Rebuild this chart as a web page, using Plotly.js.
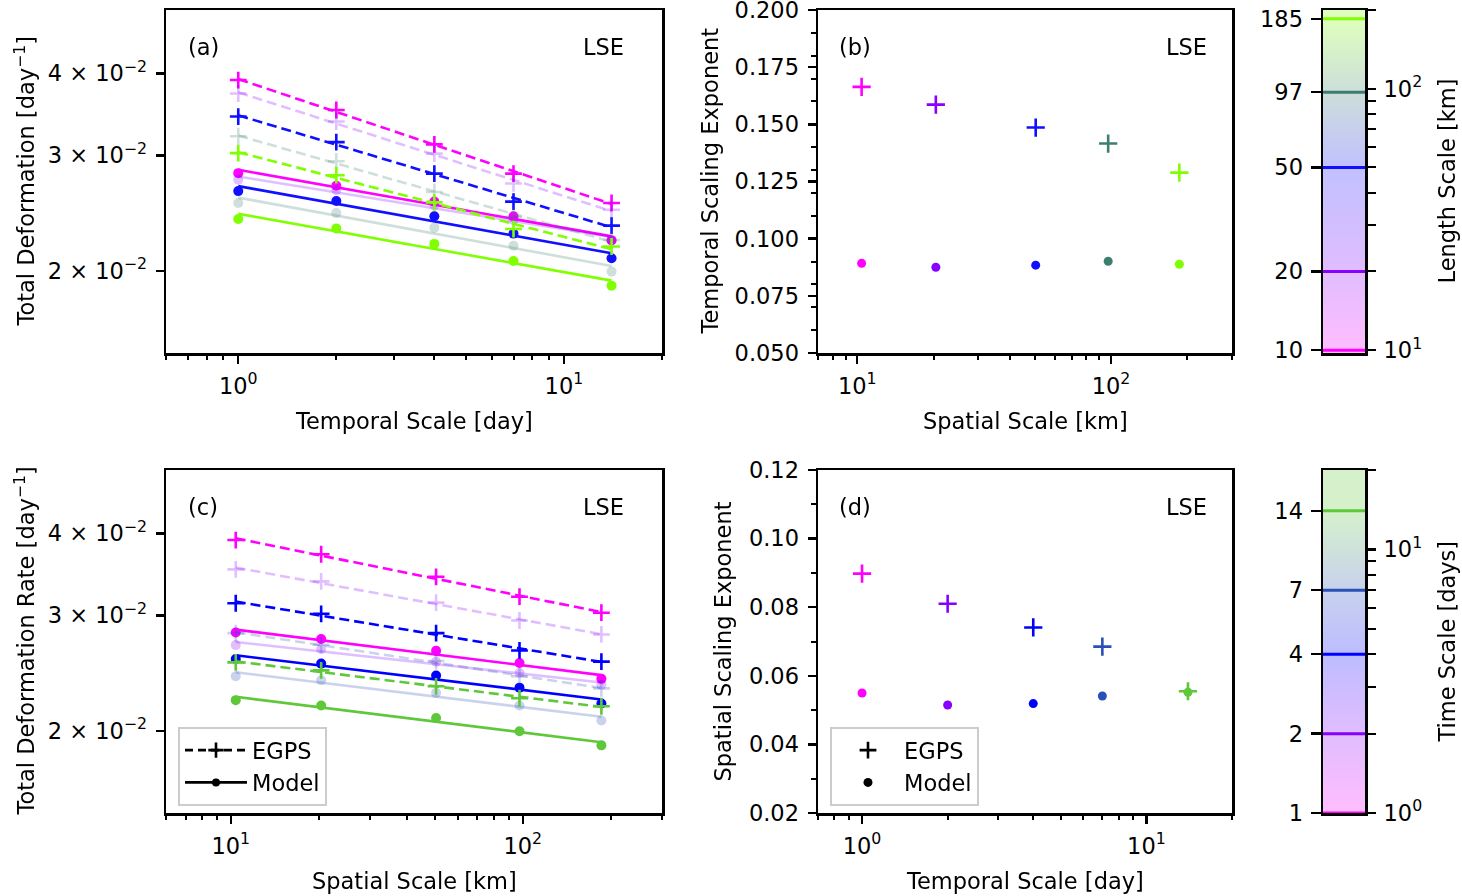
<!DOCTYPE html>
<html><head><meta charset="utf-8">
<script src="https://cdn.plot.ly/plotly-3.0.1.min.js"></script>
<style>html,body{margin:0;padding:0;background:#fff}#chart{width:1462px;height:896px}</style>
</head><body><div id="chart"></div>
<script>
// ---------------- data ----------------
const timeScales = [1, 2, 4, 7, 14];              // days
const spaceScales = [10.4, 20.4, 50.5, 97.5, 186]; // km (plotted positions)
const spaceTickVals = [10, 20, 50, 97, 185];       // length-scale colorbar labels
const timeTickVals = [1, 2, 4, 7, 14];             // time-scale colorbar labels

// panel (a): total deformation vs temporal scale, one series per spatial scale
const a_egps_10  = [0.0391, 0.0352, 0.0312, 0.02815, 0.0254];
const a_egps_20  = [0.0373, 0.0338, 0.0302, 0.0272, 0.0248];
const a_egps_50  = [0.0344, 0.03145, 0.02815, 0.02552, 0.02346];
const a_egps_97  = [0.0321, 0.0294, 0.0264, 0.0242, 0.0223];
const a_egps_185 = [0.03025, 0.0280, 0.02545, 0.02318, 0.0218];
const a_model_10  = [0.0282, 0.02698, 0.02552, 0.02424, 0.02227];
const a_model_20  = [0.02756, 0.02655, 0.02521, 0.0239, 0.02232];
const a_model_50  = [0.02648, 0.02557, 0.02424, 0.02281, 0.02092];
const a_model_97  = [0.0254, 0.02451, 0.02329, 0.02186, 0.01996];
const a_model_185 = [0.02401, 0.02323, 0.0220, 0.02072, 0.0190];

// panel (c): total deformation rate vs spatial scale, one series per temporal scale
const c_egps_1  = [0.0391, 0.0372, 0.03437, 0.03205, 0.0303];
const c_egps_2  = [0.03528, 0.03382, 0.03139, 0.02948, 0.02807];
const c_egps_4  = [0.03132, 0.03018, 0.0282, 0.02654, 0.02552];
const c_egps_7  = [0.0282, 0.02707, 0.02557, 0.02424, 0.02323];
const c_egps_14 = [0.02545, 0.02475, 0.0234, 0.02244, 0.02182];
const c_model_1  = [0.02826, 0.02762, 0.0265, 0.0254, 0.02402];
const c_model_2  = [0.02704, 0.02667, 0.02552, 0.02452, 0.02352];
const c_model_4  = [0.02575, 0.02534, 0.0243, 0.02329, 0.02203];
const c_model_7  = [0.02424, 0.02391, 0.02287, 0.02188, 0.02075];
const c_model_14 = [0.02229, 0.02188, 0.02093, 0.01998, 0.01902];

// panel (b): temporal scaling exponent per spatial scale
const b_egps  = [0.1664, 0.1586, 0.1486, 0.1416, 0.1289];
const b_model = [0.0892, 0.0875, 0.0884, 0.0901, 0.0888];
// panel (d): spatial scaling exponent per temporal scale
const d_egps  = [0.0898, 0.0810, 0.0741, 0.0685, 0.0555];
const d_model = [0.0550, 0.0515, 0.0519, 0.0541, 0.0552];

// tick labels
const bTicks = [0.05, 0.075, 0.1, 0.125, 0.15, 0.175, 0.2];
const dTicks = [0.02, 0.04, 0.06, 0.08, 0.1, 0.12];
const yLogVals = [0.02, 0.03, 0.04];
const yLogText = ['2 × 10<sup>−2</sup>', '3 × 10<sup>−2</sup>', '4 × 10<sup>−2</sup>'];

// ---------------- styles ----------------
const spaceColors = ['#ff00ff', '#8800ff', '#1010ff', '#3d7f6f', '#7fff00'];
const timeColors  = ['#ff00ff', '#8800ff', '#0000ff', '#2a50b8', '#5ec83a'];
const seriesOpacity = [1, 0.25, 1, 0.25, 1];
const FS = 22.5;
const W = 1462, H = 896;
const px = v => v / W, py = v => 1 - v / H;

const aEgps  = [a_egps_10, a_egps_20, a_egps_50, a_egps_97, a_egps_185];
const aModel = [a_model_10, a_model_20, a_model_50, a_model_97, a_model_185];
const cEgps  = [c_egps_1, c_egps_2, c_egps_4, c_egps_7, c_egps_14];
const cModel = [c_model_1, c_model_2, c_model_4, c_model_7, c_model_14];

// least-squares power-law fit (straight line in log-log) drawn between first and last x
function powerFit(xs, ys) {
  const lx = xs.map(Math.log10), ly = ys.map(Math.log10), n = xs.length;
  const mx = lx.reduce((s, v) => s + v, 0) / n, my = ly.reduce((s, v) => s + v, 0) / n;
  let num = 0, den = 0;
  for (let i = 0; i < n; i++) { num += (lx[i] - mx) * (ly[i] - my); den += (lx[i] - mx) ** 2; }
  const b = num / den, a = my - b * mx;
  const ex = [xs[0], xs[n - 1]];
  return { x: ex, y: ex.map(x => Math.pow(10, a + b * Math.log10(x))) };
}

const traces = [];
function addScalingPanel(xs, egpsList, modelList, colors, xa, ya) {
  for (let i = 0; i < egpsList.length; i++) {
    const c = colors[i], op = seriesOpacity[i];
    const fe = powerFit(xs, egpsList[i]);
    traces.push({x: fe.x, y: fe.y, mode: 'lines', line: {color: c, width: 2.6, dash: '10px,5px'},
      opacity: op, xaxis: xa, yaxis: ya, showlegend: false, hoverinfo: 'skip'});
    traces.push({x: xs, y: egpsList[i], mode: 'markers',
      marker: {symbol: 'cross-thin', size: 12, color: c, line: {width: 2.6, color: c}},
      opacity: op, xaxis: xa, yaxis: ya, showlegend: false});
    const fm = powerFit(xs, modelList[i]);
    traces.push({x: fm.x, y: fm.y, mode: 'lines', line: {color: c, width: 2.6},
      opacity: op, xaxis: xa, yaxis: ya, showlegend: false, hoverinfo: 'skip'});
    traces.push({x: xs, y: modelList[i], mode: 'markers',
      marker: {symbol: 'circle', size: 10, color: c},
      opacity: op, xaxis: xa, yaxis: ya, showlegend: false});
  }
}
addScalingPanel(timeScales, aEgps, aModel, spaceColors, 'x', 'y');
addScalingPanel(spaceScales, cEgps, cModel, timeColors, 'x3', 'y3');

// exponent panels
traces.push({x: spaceScales, y: b_egps, mode: 'markers', xaxis: 'x2', yaxis: 'y2', showlegend: false,
  marker: {symbol: 'cross-thin', size: 13, color: spaceColors, line: {width: 2.6, color: spaceColors}}});
traces.push({x: spaceScales, y: b_model, mode: 'markers', xaxis: 'x2', yaxis: 'y2', showlegend: false,
  marker: {symbol: 'circle', size: 9, color: spaceColors}});
traces.push({x: timeScales, y: d_egps, mode: 'markers', xaxis: 'x4', yaxis: 'y4', showlegend: false,
  marker: {symbol: 'cross-thin', size: 13, color: timeColors, line: {width: 2.6, color: timeColors}}});
traces.push({x: timeScales, y: d_model, mode: 'markers', xaxis: 'x4', yaxis: 'y4', showlegend: false,
  marker: {symbol: 'circle', size: 9, color: timeColors}});

// legends
traces.push({x: [null], y: [null], mode: 'lines+markers', name: 'EGPS', xaxis: 'x3', yaxis: 'y3', legend: 'legend',
  line: {color: '#000', width: 2.6, dash: '8px,5px'}, marker: {symbol: 'cross-thin', size: 11, color: '#000', line: {width: 2.6, color: '#000'}}});
traces.push({x: [null], y: [null], mode: 'lines+markers', name: 'Model', xaxis: 'x3', yaxis: 'y3', legend: 'legend',
  line: {color: '#000', width: 2.6}, marker: {symbol: 'circle', size: 8, color: '#000'}});
traces.push({x: [null], y: [null], mode: 'markers', name: 'EGPS', xaxis: 'x4', yaxis: 'y4', legend: 'legend2',
  marker: {symbol: 'cross-thin', size: 12, color: '#000', line: {width: 2.6, color: '#000'}}});
traces.push({x: [null], y: [null], mode: 'markers', name: 'Model', xaxis: 'x4', yaxis: 'y4', legend: 'legend2',
  marker: {symbol: 'circle', size: 9, color: '#000'}});

// colorbars
function hexToRgba(h, a) {
  const r = parseInt(h.slice(1, 3), 16), g = parseInt(h.slice(3, 5), 16), b = parseInt(h.slice(5, 7), 16);
  return `rgba(${r},${g},${b},${a})`;
}
function addColorbar(vals, colors, lo, hi, xa, ya, ya2) {
  const L = v => (Math.log10(v) - Math.log10(lo)) / (Math.log10(hi) - Math.log10(lo));
  const cs = [[0, hexToRgba(colors[0], 0.26)]];
  vals.forEach((v, i) => cs.push([Math.min(Math.max(L(v), 0.0001), 0.9999), hexToRgba(colors[i], 0.26)]));
  cs.push([1, hexToRgba(colors[colors.length - 1], 0.26)]);
  traces.push({x: [0, 1, 1, 0, 0], y: [lo, lo, hi, hi, lo], mode: 'lines', fill: 'toself',
    fillgradient: {type: 'vertical', colorscale: cs}, line: {width: 0, color: 'rgba(0,0,0,0)'},
    xaxis: xa, yaxis: ya, showlegend: false, hoverinfo: 'skip'});
  vals.forEach((v, i) => traces.push({x: [0, 1], y: [v, v], mode: 'lines', line: {color: colors[i], width: 3},
    xaxis: xa, yaxis: ya2, showlegend: false, hoverinfo: 'skip'}));
}
addColorbar(spaceTickVals, spaceColors, 9.75, 200, 'x5', 'y5', 'y6');
addColorbar(timeTickVals, timeColors, 1, 20, 'x6', 'y7', 'y8');

// ---------------- layout ----------------
const sup = e => `10<sup>${e}</sup>`;
const frame = {showline: true, linewidth: 2.5, linecolor: '#000', mirror: true, showgrid: false, zeroline: false,
  ticks: 'outside', ticklen: 8, tickwidth: 2.4, tickcolor: '#000', tickfont: {size: FS, color: '#000'},
  ticklabeloverflow: 'allow'};
function logAx(domain, lo, hi, tickvals, ticktext, minorvals, anchor, extra) {
  return Object.assign({}, frame, {type: 'log', domain, range: [Math.log10(lo), Math.log10(hi)], anchor,
    tickmode: 'array', tickvals, ticktext,
    minor: {tickmode: 'array', tickvals: minorvals, ticks: 'outside', ticklen: 4.5, tickwidth: 2, tickcolor: '#000', showgrid: false}},
    extra || {});
}
function linAx(domain, lo, hi, tickvals, fmt, minorDtick, anchor) {
  return Object.assign({}, frame, {type: 'linear', domain, range: [lo, hi], anchor, tickmode: 'array', tickvals,
    ticktext: tickvals.map(v => v.toFixed(fmt)), ticklabelstandoff: 4,
    minor: {tickmode: 'linear', tick0: lo, dtick: minorDtick, ticks: 'outside', ticklen: 4.5, tickwidth: 2, tickcolor: '#000', showgrid: false}});
}
const colL = [px(166), px(662)], colR = [px(818), px(1232)], colCB = [px(1323), px(1365)];
const rowT = [py(353), py(10)], rowB = [py(813), py(470)];

const legendStyle = {xanchor: 'left', yanchor: 'top', bgcolor: 'rgba(255,255,255,0.85)',
  bordercolor: '#cccccc', borderwidth: 2, font: {size: FS}, itemwidth: 62, tracegroupgap: 0};

const layout = {
  width: W, height: H, margin: {l: 0, r: 0, t: 0, b: 0},
  paper_bgcolor: '#fff', plot_bgcolor: 'rgba(0,0,0,0)',
  font: {family: 'DejaVu Sans', size: FS, color: '#000'},
  hovermode: false,
  xaxis: logAx(colL, 0.6, 20, [1, 10], [sup(0), sup(1)], [0.6, 0.7, 0.8, 0.9, 2, 3, 4, 5, 6, 7, 8, 9, 20], 'y', {ticklabelstandoff: 3}),
  yaxis: logAx(rowT, 0.015, 0.05, yLogVals, yLogText, [], 'x', {ticklabelstandoff: 4}),
  xaxis2: logAx(colR, 7, 300, [10, 100], [sup(1), sup(2)], [7, 8, 9, 20, 30, 40, 50, 60, 70, 80, 90, 200, 300], 'y2', {ticklabelstandoff: 3}),
  yaxis2: linAx(rowT, 0.05, 0.2, bTicks, 3, 0.01, 'x2'),
  xaxis3: logAx(colL, 6, 300, [10, 100], [sup(1), sup(2)], [6, 7, 8, 9, 20, 30, 40, 50, 60, 70, 80, 90, 200, 300], 'y3', {ticklabelstandoff: 3}),
  yaxis3: logAx(rowB, 0.015, 0.05, yLogVals, yLogText, [], 'x3', {ticklabelstandoff: 4}),
  xaxis4: logAx(colR, 0.7, 20, [1, 10], [sup(0), sup(1)], [0.7, 0.8, 0.9, 2, 3, 4, 5, 6, 7, 8, 9, 20], 'y4', {ticklabelstandoff: 3}),
  yaxis4: linAx(rowB, 0.02, 0.12, dTicks, 2, 0.01, 'x4'),
  xaxis5: Object.assign({}, frame, {domain: colCB, range: [0, 1], anchor: 'y5', ticks: '', showticklabels: false}),
  yaxis5: logAx(rowT, 9.75, 200, spaceTickVals, spaceTickVals.map(String), [], 'x5', {side: 'left', ticklen: 10, ticklabelstandoff: 3}),
  yaxis6: logAx(rowT, 9.75, 200, [10, 100], [sup(1), sup(2)], [20, 30, 40, 50, 60, 70, 80, 90, 200], 'x5',
    {side: 'right', overlaying: 'y5', ticklen: 10, showline: false, mirror: false, ticklabelstandoff: 3}),
  xaxis6: Object.assign({}, frame, {domain: colCB, range: [0, 1], anchor: 'y7', ticks: '', showticklabels: false}),
  yaxis7: logAx(rowB, 1, 20, timeTickVals, timeTickVals.map(String), [], 'x6', {side: 'left', ticklen: 10, ticklabelstandoff: 3}),
  yaxis8: logAx(rowB, 1, 20, [1, 10], [sup(0), sup(1)], [2, 3, 4, 5, 6, 7, 8, 9, 20], 'x6',
    {side: 'right', overlaying: 'y7', ticklen: 10, showline: false, mirror: false, ticklabelstandoff: 3}),
  legend: Object.assign({x: px(178), y: py(727)}, legendStyle),
  legend2: Object.assign({x: px(830), y: py(727)}, legendStyle),
  annotations: []
};
layout.yaxis6.minor.ticklen = 10;
layout.yaxis8.minor.ticklen = 10;

function ann(text, x, y, opts) {
  layout.annotations.push(Object.assign({text, x: px(x), y: py(y), xref: 'paper', yref: 'paper', showarrow: false,
    xanchor: 'center', yanchor: 'middle', font: {size: FS, color: '#000'}}, opts || {}));
}
// axis titles
ann('Temporal Scale [day]', 414, 421);
ann('Spatial Scale [km]', 1025, 421);
ann('Spatial Scale [km]', 414, 881);
ann('Temporal Scale [day]', 1025, 881);
ann('Total Deformation [day<sup>−1</sup>]', 24, 181.5, {textangle: -90});
ann('Temporal Scaling Exponent', 709, 181.5, {textangle: -90});
ann('Total Deformation Rate [day<sup>−1</sup>]', 24, 641.5, {textangle: -90});
ann('Spatial Scaling Exponent', 722, 641.5, {textangle: -90});
ann('Length Scale [km]', 1446, 181.5, {textangle: -90});
ann('Time Scale [days]', 1446, 641.5, {textangle: -90});
// panel labels
ann('(a)', 186, 47, {xanchor: 'left'});
ann('LSE', 626, 47, {xanchor: 'right'});
ann('(b)', 837, 47, {xanchor: 'left'});
ann('LSE', 1209, 47, {xanchor: 'right'});
ann('(c)', 186, 507, {xanchor: 'left'});
ann('LSE', 626, 507, {xanchor: 'right'});
ann('(d)', 837, 507, {xanchor: 'left'});
ann('LSE', 1209, 507, {xanchor: 'right'});

Plotly.newPlot('chart', traces, layout, {staticPlot: true, displayModeBar: false});
</script>
</body></html>
